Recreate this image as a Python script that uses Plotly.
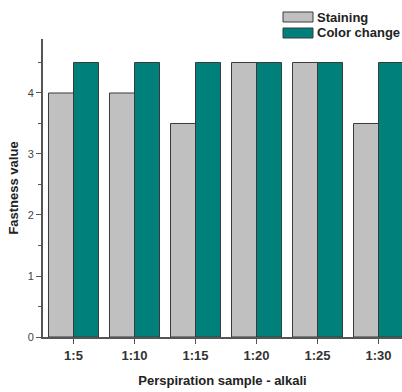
import plotly.graph_objects as go

categories = ["1:5", "1:10", "1:15", "1:20", "1:25", "1:30"]
staining = [4.0, 4.0, 3.5, 4.5, 4.5, 3.5]
color_change = [4.5, 4.5, 4.5, 4.5, 4.5, 4.5]
y_ticks = [0, 1, 2, 3, 4]

GRAY = "#c0c0c0"
TEAL = "#00807b"
EDGE = "#3a3a3a"
AXIS = "#555555"
FONT = "Liberation Sans, Arial"

fig = go.Figure()
fig.add_trace(go.Bar(x=categories, y=staining, name="Staining",
                     marker=dict(color=GRAY, line=dict(color=EDGE, width=1)),
                     showlegend=False))
fig.add_trace(go.Bar(x=categories, y=color_change, name="Color change",
                     marker=dict(color=TEAL, line=dict(color=EDGE, width=1)),
                     showlegend=False))

# legend drawn as swatches + labels in the top right corner
legend_items = [("Staining", GRAY), ("Color change", TEAL)]
for i, (label, col) in enumerate(legend_items):
    y0 = 12 + i * 16
    fig.add_shape(type="rect", xref="paper", yref="paper",
                  x0=(283 - 43) / 359, x1=(313 - 43) / 359,
                  y0=(337 - (y0 + 10)) / 298, y1=(337 - y0) / 298,
                  fillcolor=col, line=dict(color=EDGE, width=1))
    fig.add_annotation(xref="paper", yref="paper",
                       x=(315 - 43) / 359, y=(337 - (y0 + 5)) / 298,
                       text=f"<b>{label}</b>", showarrow=False,
                       xanchor="left", yanchor="middle",
                       font=dict(family=FONT, size=13, color="#222"))

fig.update_layout(
    width=402, height=392,
    margin=dict(l=43, r=0, t=39, b=55),
    paper_bgcolor="white", plot_bgcolor="white",
    barmode="group", bargap=0.18, bargroupgap=0,
    font=dict(family=FONT, color="#333"),
)
fig.update_xaxes(
    range=[-0.5, 5.385],
    showline=True, linecolor=AXIS, linewidth=2,
    ticks="outside", ticklen=5, tickcolor=AXIS, tickwidth=1,
    tickfont=dict(size=13, color="#333", family=FONT),
    tickvals=categories, ticktext=[f"<b>{c}</b>" for c in categories],
    minor=dict(ticks="outside", ticklen=3, tickcolor=AXIS, dtick=1, tick0=0.5),
    title=dict(text="<b>Perspiration sample - alkali</b>", standoff=14,
               font=dict(size=13, color="#222")),
    showgrid=False, zeroline=False,
)
fig.update_yaxes(
    range=[0, 4.885],
    showline=True, linecolor=AXIS, linewidth=2,
    ticks="outside", ticklen=5, tickcolor=AXIS, tickwidth=1,
    tickvals=y_ticks, tickfont=dict(size=11, color="#444"),
    minor=dict(ticks="outside", ticklen=3, tickcolor=AXIS, dtick=0.5),
    title=dict(text="<b>Fastness value</b>", standoff=6,
               font=dict(size=13, color="#222")),
    showgrid=False, zeroline=False,
)

fig.write_html("out.html")
